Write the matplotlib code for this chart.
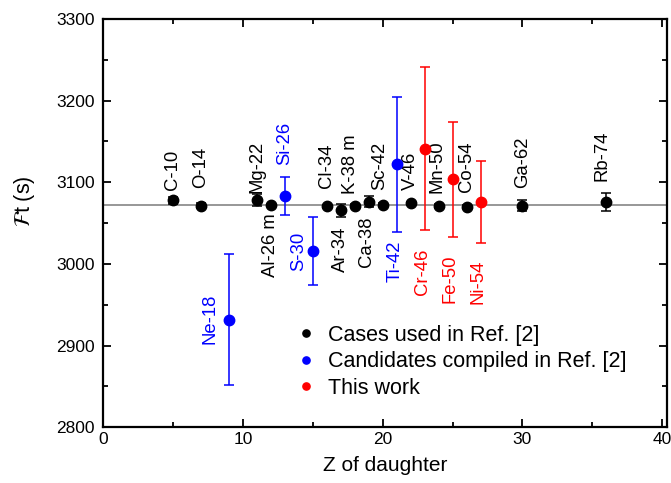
import matplotlib.pyplot as plt
from matplotlib.lines import Line2D
from matplotlib.ticker import MultipleLocator

plt.rcParams["font.family"] = ["Liberation Sans", "DejaVu Sans"]

# Cases used in Ref. [2]
ref_names = ["C-10", "O-14", "Mg-22", "Al-26 m", "Cl-34", "Ar-34", "K-38 m",
             "Ca-38", "Sc-42", "V-46", "Mn-50", "Co-54", "Ga-62", "Rb-74"]
ref_z = [5, 7, 11, 12, 16, 17, 18, 19, 20, 22, 24, 26, 30, 36]
ref_ft = [3078.0, 3071.5, 3078.0, 3072.4, 3070.7, 3065.6, 3071.6,
          3076.4, 3072.4, 3074.1, 3071.2, 3069.8, 3071.5, 3076.0]
ref_err = [4.5, 3.3, 7.3, 1.1, 1.8, 8.4, 2.0, 7.2, 2.3, 2.0, 2.1, 2.6, 6.7, 11.0]

# Candidates compiled in Ref. [2]
cand_names = ["Ne-18", "Si-26", "S-30", "Ti-42"]
cand_z = [9, 13, 15, 21]
cand_ft = [2932, 3083, 3016, 3122]
cand_err = [80, 23, 42, 83]

# This work
new_names = ["Cr-46", "Fe-50", "Ni-54"]
new_z = [23, 25, 27]
new_ft = [3141, 3103.5, 3076]
new_err = [100, 70, 50]

ft_mean = 3072

# label placement: (dx, dy, where) relative to each point
ref_lab = [(0, 12, "a"), (0, 21, "a"), (0, 9, "a"), (0, -10, "b"), (0, 22, "a"),
           (-0.05, -20, "b"), (-0.3, 14, "a"), (-0.14, -18, "b"), (-0.2, 18, "a"),
           (0, 16, "a"), (-0.1, 16, "a"), (0, 18, "a"), (0, 22, "a"), (-0.3, 25, "a")]
cand_lab = [(-1.35, 1, "l"), (0, 38, "a"), (-1.03, 0, "l"), (-0.1, -93, "b")]
new_lab = [(-0.13, -122, "b"), (-0.2, -92.5, "b"), (-0.2, -71, "b")]

fig = plt.figure(figsize=(6.71, 4.83), dpi=100)
ax = fig.add_axes([0.1535, 0.1153, 0.8398, 0.8454])

ax.axhline(ft_mean, color="#7a7a7a", lw=1.1, zorder=1)

groups = [
    (ref_names, ref_z, ref_ft, ref_err, ref_lab, "black"),
    (cand_names, cand_z, cand_ft, cand_err, cand_lab, "blue"),
    (new_names, new_z, new_ft, new_err, new_lab, "red"),
]
for names, z, ft, err, lab, color in groups:
    ax.errorbar(z, ft, yerr=err, fmt="o", color=color, ms=7.5, lw=1.1,
                capsize=3.4, capthick=1.1, zorder=3)
    for name, zi, fi, (dx, dy, where) in zip(names, z, ft, lab):
        va = {"a": "bottom", "b": "top", "l": "center"}[where]
        ax.text(zi + dx, fi + dy, name, rotation=90, ha="center", va=va,
                color=color, fontsize=13.3)

ax.set_xlim(0, 40.3)
ax.set_ylim(2800, 3300)
ax.xaxis.set_major_locator(MultipleLocator(10))
ax.xaxis.set_minor_locator(MultipleLocator(5))
ax.yaxis.set_major_locator(MultipleLocator(100))
ax.yaxis.set_minor_locator(MultipleLocator(50))
ax.tick_params(which="both", direction="in", top=True, right=True,
               width=1.3, labelsize=12.5)
ax.tick_params(which="major", length=6)
ax.tick_params(which="minor", length=3.5)
ax.tick_params(axis="y", pad=6)
for s in ax.spines.values():
    s.set_linewidth(1.6)

ax.set_xlabel("Z of daughter", fontsize=15, labelpad=6)
ax.set_ylabel(r"$\mathcal{F}$t (s)", fontsize=15.5)
ax.yaxis.set_label_coords(-0.117, 0.555)

handles = [Line2D([], [], ls="none", marker="o", color=c, ms=5.2) for c in ("black", "blue", "red")]
ax.legend(handles, ["Cases used in Ref. [2]", "Candidates compiled in Ref. [2]", "This work"],
          loc="upper left", bbox_to_anchor=(0.33, 0.272), frameon=False, fontsize=15.5,
          handlelength=0.8, handletextpad=0.6, labelspacing=0.25, borderaxespad=0)

fig.savefig("out.png", dpi=100)
